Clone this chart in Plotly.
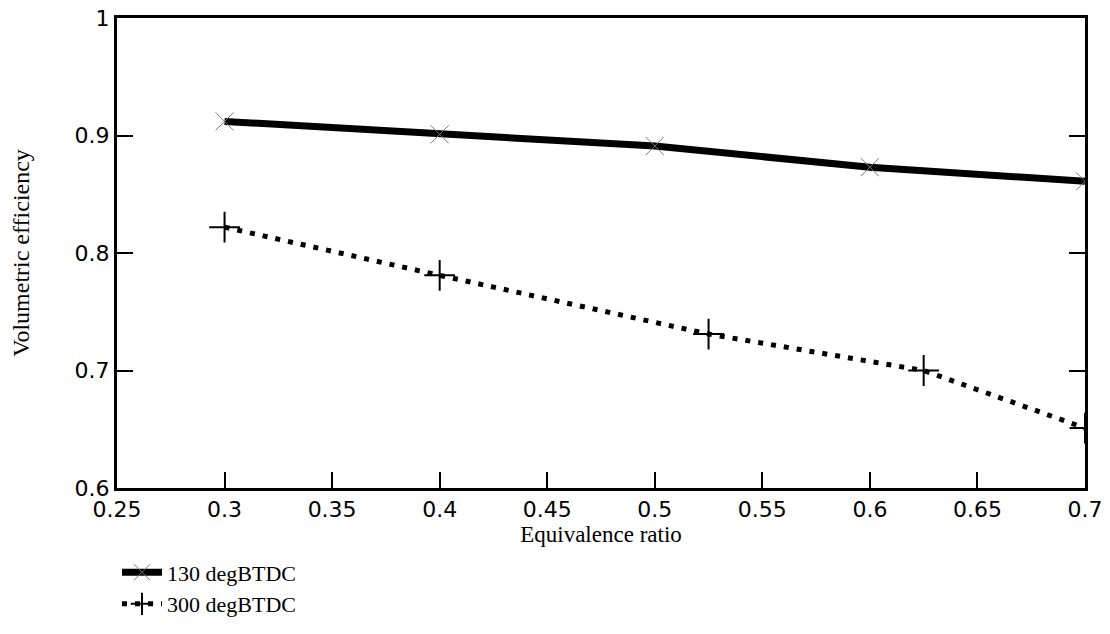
import plotly.graph_objects as go

x_130 = [0.3, 0.4, 0.5, 0.6, 0.7]
y_130 = [0.912, 0.901, 0.891, 0.873, 0.861]
x_300 = [0.3, 0.4, 0.525, 0.625, 0.7]
y_300 = [0.822, 0.781, 0.731, 0.700, 0.651]

x_ticks = [0.25, 0.3, 0.35, 0.4, 0.45, 0.5, 0.55, 0.6, 0.65, 0.7]
x_tick_labels = ["0.25", "0.3", "0.35", "0.4", "0.45", "0.5", "0.55", "0.6", "0.65", "0.7"]
y_ticks = [0.6, 0.7, 0.8, 0.9, 1.0]
y_tick_labels = ["0.6", "0.7", "0.8", "0.9", "1"]

fig = go.Figure()
fig.add_trace(go.Scatter(
    x=x_130, y=y_130, mode="lines+markers", name="130 degBTDC",
    line=dict(color="black", width=7),
    marker=dict(symbol="x-thin-open", size=18, color="#777777",
                line=dict(color="#777777", width=1)),
))
fig.add_trace(go.Scatter(
    x=x_300, y=y_300, mode="lines+markers", name="300 degBTDC",
    line=dict(color="black", width=5, dash="5px,8px"),
    marker=dict(symbol="cross-thin-open", size=22, color="black",
                line=dict(color="black", width=2)),
))

fig.update_layout(
    width=1110, height=634,
    margin=dict(l=117, r=25, t=18, b=146, autoexpand=False),
    paper_bgcolor="white", plot_bgcolor="white",
    showlegend=True,
    legend=dict(x=0.0, y=-0.135, xanchor="left", yanchor="top",
                font=dict(family="Liberation Serif", size=22, color="black"),
                bgcolor="rgba(0,0,0,0)", tracegroupgap=0, itemwidth=40),
)
fig.update_xaxes(
    range=[0.25, 0.7], tickvals=x_ticks, ticktext=x_tick_labels,
    showgrid=False, zeroline=False, automargin=False,
    ticklabeloverflow="allow",
    showline=True, linecolor="black", linewidth=3, mirror=True,
    ticks="inside", ticklen=16, tickwidth=2, tickcolor="black",
    tickfont=dict(family="DejaVu Sans", size=22, color="black"),
    title=dict(text="Equivalence ratio", standoff=2,
               font=dict(family="Liberation Serif", size=23, color="black")),
)
fig.update_yaxes(
    range=[0.6, 1.0], tickvals=y_ticks, ticktext=y_tick_labels,
    showgrid=False, zeroline=False, automargin=False,
    ticklabeloverflow="allow",
    showline=True, linecolor="black", linewidth=3, mirror="ticks",
    ticks="inside", ticklen=16, tickwidth=2, tickcolor="black",
    tickfont=dict(family="DejaVu Sans", size=22, color="black"),
    title=dict(text="Volumetric efficiency", standoff=39,
               font=dict(family="Liberation Serif", size=24, color="black")),
)

fig.write_html("out.html", config={"displayModeBar": False},
               post_script="document.body.style.margin='0px';")
